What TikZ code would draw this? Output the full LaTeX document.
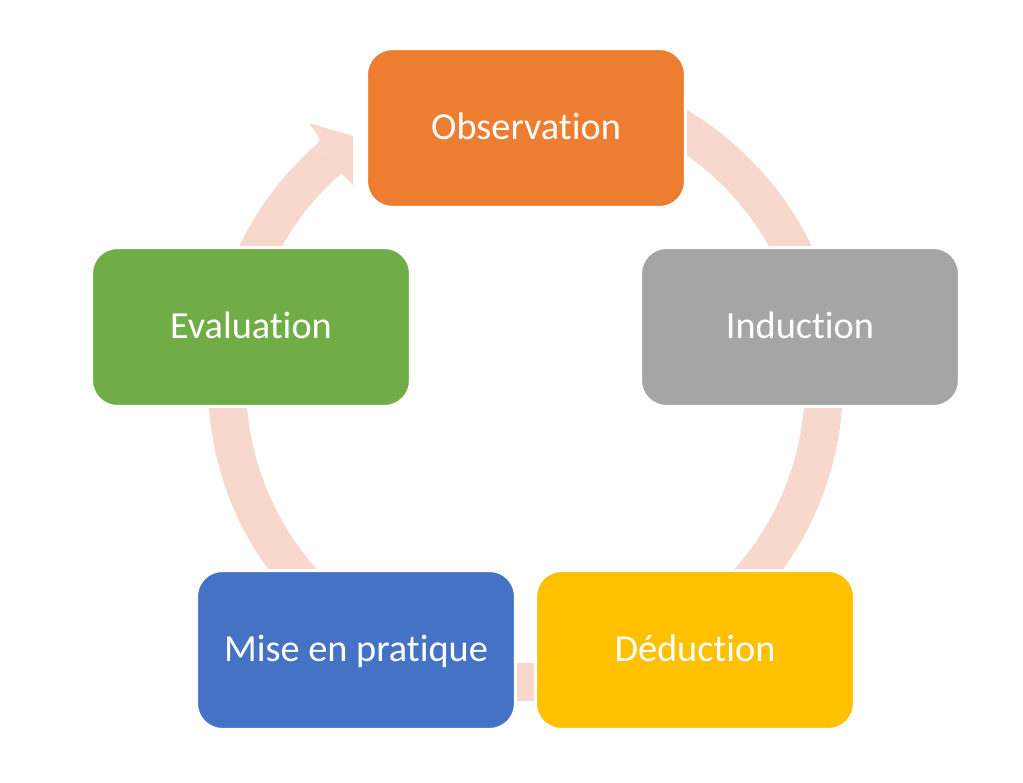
\documentclass[tikz,border=0pt]{standalone}
\usepackage{fontspec}
\setmainfont{Carlito}[Ligatures=NoCommon]
\usepackage{tikz}
\usetikzlibrary{calc}
\definecolor{obsorange}{HTML}{ED7D31}
\definecolor{indgray}{HTML}{A5A5A5}
\definecolor{dedyellow}{HTML}{FFC000}
\definecolor{miseblue}{HTML}{4472C4}
\definecolor{evalgreen}{HTML}{70AD47}
\definecolor{ringpink}{RGB}{248,215,204}

\begin{document}
\begin{tikzpicture}[x=0.02cm, y=-0.02cm,
  stage/.style={rectangle, rounded corners=0.52cm, draw=white, line width=0.06cm,
    minimum width=6.38cm, minimum height=3.18cm, text=white,
    font=\fontsize{21.8}{26}\selectfont, text height=18.8pt, text depth=5.6pt}]
  \useasboundingbox (0,0) rectangle (1023,783);
  \coordinate (ctr) at (525.5,383.5);
  % ring behind the boxes
  \draw[ringpink, line width=0.76cm] ($(ctr)+(131:5.97cm)$)
    arc[start angle=131, end angle=478, radius=5.97cm];
  \fill[ringpink] ($(ctr)+(131:6.35cm)$) -- (320,139) -- (309,123) -- (353,136)
    -- (353,185) -- (340,172) -- ($(ctr)+(131:5.59cm)$) -- cycle;
  % stages
  \node[stage, fill=obsorange] (obs) at (526,128) {Observation};
  \node[stage, fill=indgray] (ind) at (800,327) {Induction};
  \node[stage, fill=dedyellow] (ded) at (695,650) {Déduction};
  \node[stage, fill=miseblue] (mise) at (356,650) {Mise en pratique};
  \node[stage, fill=evalgreen] (eval) at (251,327) {Evaluation};
\end{tikzpicture}
\end{document}
